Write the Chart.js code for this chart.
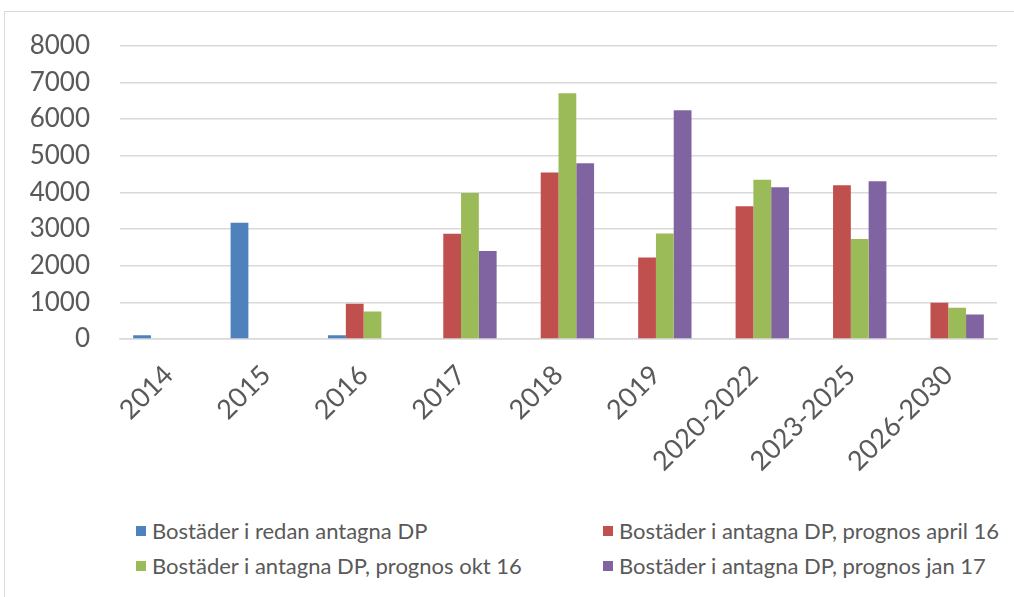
<!DOCTYPE html>
<html>
<head>
<meta charset="utf-8">
<script src="https://cdn.jsdelivr.net/npm/chart.js@4.4.0/dist/chart.umd.min.js"></script>
<style>
    html, body { margin: 0; padding: 0; background: #fff; }
    body { width: 1014px; height: 597px; position: relative; overflow: hidden; font-family: Lato, sans-serif; }
    #frame { position: absolute; left: 4px; top: 11px; width: 1030px; height: 620px; border: 1.5px solid #d9d9d9; }
    #wrap { position: absolute; left: 0; top: 0; width: 1014px; height: 500px; }
    #legend { position: absolute; left: 0; top: 0; }
    .item { position: absolute; display: flex; align-items: center; font-size: 22px; color: #595959; white-space: nowrap; }
    .box { width: 10px; height: 10px; margin-right: 6px; }
</style>
</head>
<body>
<div id="frame"></div>
<div id="wrap"><canvas id="chart"></canvas></div>
<div id="legend"></div>
<script>
// categories and series
const categories = ['2014', '2015', '2016', '2017', '2018', '2019', '2020-2022', '2023-2025', '2026-2030'];
const redanAntagna = [100, 3170, 100, null, null, null, null, null, null];
const prognosApril16 = [null, null, 960, 2870, 4540, 2220, 3620, 4190, 990];
const prognosOkt16 = [null, null, 750, 3980, 6700, 2880, 4340, 2730, 850];
const prognosJan17 = [null, null, null, 2400, 4790, 6240, 4140, 4300, 670];
const seriesNames = [
    'Bostäder i redan antagna DP',
    'Bostäder i antagna DP, prognos april 16',
    'Bostäder i antagna DP, prognos okt 16',
    'Bostäder i antagna DP, prognos jan 17'
];
const colors = ['#4F81BD', '#C0504D', '#9BBB59', '#8064A2'];

const seriesData = [redanAntagna, prognosApril16, prognosOkt16, prognosJan17];

const chart = new Chart(document.getElementById('chart'), {
    type: 'bar',
    data: {
        labels: categories,
        datasets: seriesData.map((d, i) => ({
            label: seriesNames[i],
            data: d,
            backgroundColor: colors[i],
            categoryPercentage: 0.73,
            barPercentage: 1
        }))
    },
    options: {
        responsive: true,
        maintainAspectRatio: false,
        animation: false,
        layout: { padding: { top: 44, right: 17, left: 0, bottom: 0 } },
        plugins: {
            legend: { display: false },
            tooltip: { enabled: false }
        },
        scales: {
            x: {
                grid: { display: false },
                border: { color: '#d9d9d9', width: 1.5 },
                ticks: {
                    color: '#595959',
                    font: { family: 'Lato', size: 27 },
                    maxRotation: 45,
                    minRotation: 45,
                    padding: 12
                },
                afterFit: (scale) => { scale.height = 161; }
            },
            y: {
                min: 0,
                max: 8000,
                border: { display: false },
                grid: { color: '#d9d9d9', lineWidth: 1.5, drawTicks: false },
                ticks: {
                    stepSize: 1000,
                    color: '#595959',
                    font: { family: 'Lato', size: 26 },
                    padding: 30,
                    callback: (v) => String(v)
                },
                afterFit: (scale) => { scale.width = 120; }
            }
        }
    }
});

// two-column legend below the chart
const legend = document.getElementById('legend');
const legendPos = [[136, 531], [603, 531], [136, 566], [603, 566]];
seriesNames.forEach((name, i) => {
    const el = document.createElement('div');
    el.className = 'item';
    el.style.left = legendPos[i][0] + 'px';
    el.style.top = (legendPos[i][1] - 14) + 'px';
    el.innerHTML = '<span class="box" style="background:' + colors[i] + '"></span>' + name;
    legend.appendChild(el);
});
</script>
</body>
</html>
